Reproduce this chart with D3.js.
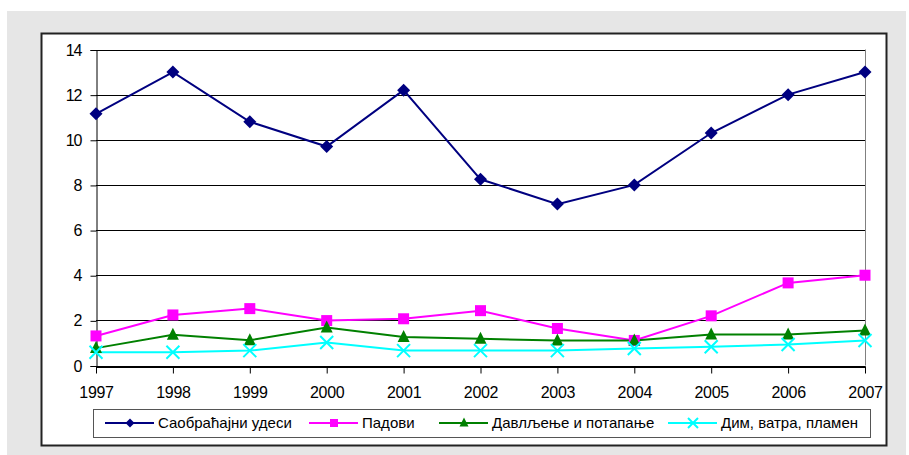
<!DOCTYPE html>
<html>
<head>
<meta charset="utf-8">
<script src="https://cdn.jsdelivr.net/npm/d3@7"></script>
<style>
  body { margin: 0; background: #fff; }
  svg { display: block; font-family: "Liberation Sans", Arial, sans-serif; }
</style>
</head>
<body>
<div id="chart"></div>
<script>
// data
var years = ["1997", "1998", "1999", "2000", "2001", "2002", "2003", "2004", "2005", "2006", "2007"];
var yTicks = [0, 2, 4, 6, 8, 10, 12, 14];
var seriesNames = ["Саобраћајни удеси", "Падови", "Давлљење и потапање", "Дим, ватра, пламен"];
var traffic = [11.15, 13.0, 10.8, 9.7, 12.2, 8.25, 7.15, 8.0, 10.3, 12.0, 13.0];
var falls = [1.31, 2.24, 2.52, 1.99, 2.07, 2.43, 1.64, 1.11, 2.2, 3.66, 4.0];
var drowning = [0.77, 1.36, 1.12, 1.68, 1.26, 1.18, 1.11, 1.11, 1.37, 1.37, 1.55];
var smoke = [0.59, 0.59, 0.66, 1.02, 0.66, 0.66, 0.66, 0.75, 0.83, 0.93, 1.11];

var colors = ["#000080", "#ff00ff", "#008000", "#00ffff"];
var symbols = ["diamond", "square", "triangle", "cross"];

(function() {
  var W = 909, H = 455;
  var svg = d3.select("#chart").append("svg")
    .attr("width", W).attr("height", H);

  // gray page panel + chart frame
  svg.append("rect").attr("x", 7).attr("y", 11).attr("width", 899).attr("height", 444)
    .attr("fill", "#e6e6e6");
  svg.append("rect").attr("x", 41.5).attr("y", 33.5).attr("width", 845).attr("height", 412)
    .attr("fill", "#fff").attr("stroke", "#222").attr("stroke-width", 2);

  var plot = { left: 96, top: 49.5, right: 865, bottom: 365.5 };

  var x = d3.scalePoint().domain(years).range([plot.left, plot.right]);
  var y = d3.scaleLinear().domain([0, 14]).range([plot.bottom, plot.top]);

  // gridlines
  svg.append("g").selectAll("line").data(yTicks.filter(d => d > 0)).enter()
    .append("line")
    .attr("x1", plot.left).attr("x2", plot.right)
    .attr("y1", d => Math.round(y(d)) + 0.5).attr("y2", d => Math.round(y(d)) + 0.5)
    .attr("stroke", "#000").attr("stroke-width", 1);

  // right border of plot area
  svg.append("line")
    .attr("x1", plot.right + 0.5).attr("x2", plot.right + 0.5)
    .attr("y1", plot.top).attr("y2", plot.bottom)
    .attr("stroke", "#808080");

  // y axis
  var yAxis = svg.append("g")
    .attr("transform", "translate(" + (plot.left + 0.5) + ",0.5)")
    .call(d3.axisLeft(y).tickValues(yTicks).tickSize(6).tickPadding(9));
  yAxis.selectAll("path, line").attr("stroke", "#000");
  yAxis.selectAll("text").attr("font-size", 16).attr("fill", "#000")
    .attr("letter-spacing", -1).attr("font-family", "Liberation Sans, Arial");

  // x axis
  var xAxis = svg.append("g")
    .attr("transform", "translate(0," + (Math.round(plot.bottom) + 0.5) + ")")
    .call(d3.axisBottom(x).tickSize(7).tickSizeOuter(0).tickPadding(13));
  xAxis.selectAll("path, line").attr("stroke", "#000");
  xAxis.select(".domain").attr("stroke-width", 2);
  xAxis.selectAll("text").attr("font-size", 16).attr("fill", "#000")
    .attr("letter-spacing", -0.3).attr("font-family", "Liberation Sans, Arial");

  var allSeries = [traffic, falls, drowning, smoke];

  var line = d3.line()
    .x((d, i) => x(years[i]))
    .y(d => y(d));

  function marker(g, type, color, size) {
    var s = size / 2;
    if (type === "cross") {
      g.append("path")
        .attr("d", "M" + (-s) + "," + (-s) + "L" + s + "," + s + "M" + (-s) + "," + s + "L" + s + "," + (-s))
        .attr("stroke", color).attr("stroke-width", 2).attr("fill", "none");
    } else if (type === "diamond") {
      g.append("path")
        .attr("d", "M0," + (-s) + "L" + s + ",0L0," + s + "L" + (-s) + ",0Z")
        .attr("fill", color);
    } else if (type === "square") {
      g.append("rect")
        .attr("x", -s).attr("y", -s)
        .attr("width", size).attr("height", size)
        .attr("fill", color);
    } else {
      g.append("path")
        .attr("d", "M0," + (-s - 1) + "L" + s + "," + (s - 1) + "L" + (-s) + "," + (s - 1) + "Z")
        .attr("fill", color);
    }
  }

  var plotSizes = [13, 11, 12, 13];

  allSeries.forEach(function(values, k) {
    svg.append("path")
      .datum(values)
      .attr("d", line)
      .attr("fill", "none")
      .attr("stroke", colors[k])
      .attr("stroke-width", 2);
  });

  // markers on top of lines
  allSeries.forEach(function(values, k) {
    values.forEach(function(v, i) {
      var g = svg.append("g")
        .attr("transform", "translate(" + x(years[i]) + "," + y(v) + ")");
      marker(g, symbols[k], colors[k], plotSizes[k]);
    });
  });

  // legend
  var legend = svg.append("g");
  legend.append("rect")
    .attr("x", 93.5).attr("y", 409.5).attr("width", 777).attr("height", 28)
    .attr("fill", "#fff").attr("stroke", "#555").attr("stroke-width", 1);

  var legendX = [105, 309, 439, 668];
  var legendSizes = [9, 8, 9, 10];
  var ly = 423;
  seriesNames.forEach(function(name, k) {
    var lx = legendX[k];
    legend.append("line")
      .attr("x1", lx).attr("x2", lx + 49)
      .attr("y1", ly).attr("y2", ly)
      .attr("stroke", colors[k]).attr("stroke-width", 2);
    var g = legend.append("g").attr("transform", "translate(" + (lx + 25) + "," + ly + ")");
    marker(g, symbols[k], colors[k], legendSizes[k]);
    legend.append("text")
      .attr("x", lx + 53).attr("y", ly)
      .attr("dy", "0.35em")
      .attr("font-size", 15)
      .attr("fill", "#000")
      .text(name);
  });
})();
</script>
</body>
</html>
